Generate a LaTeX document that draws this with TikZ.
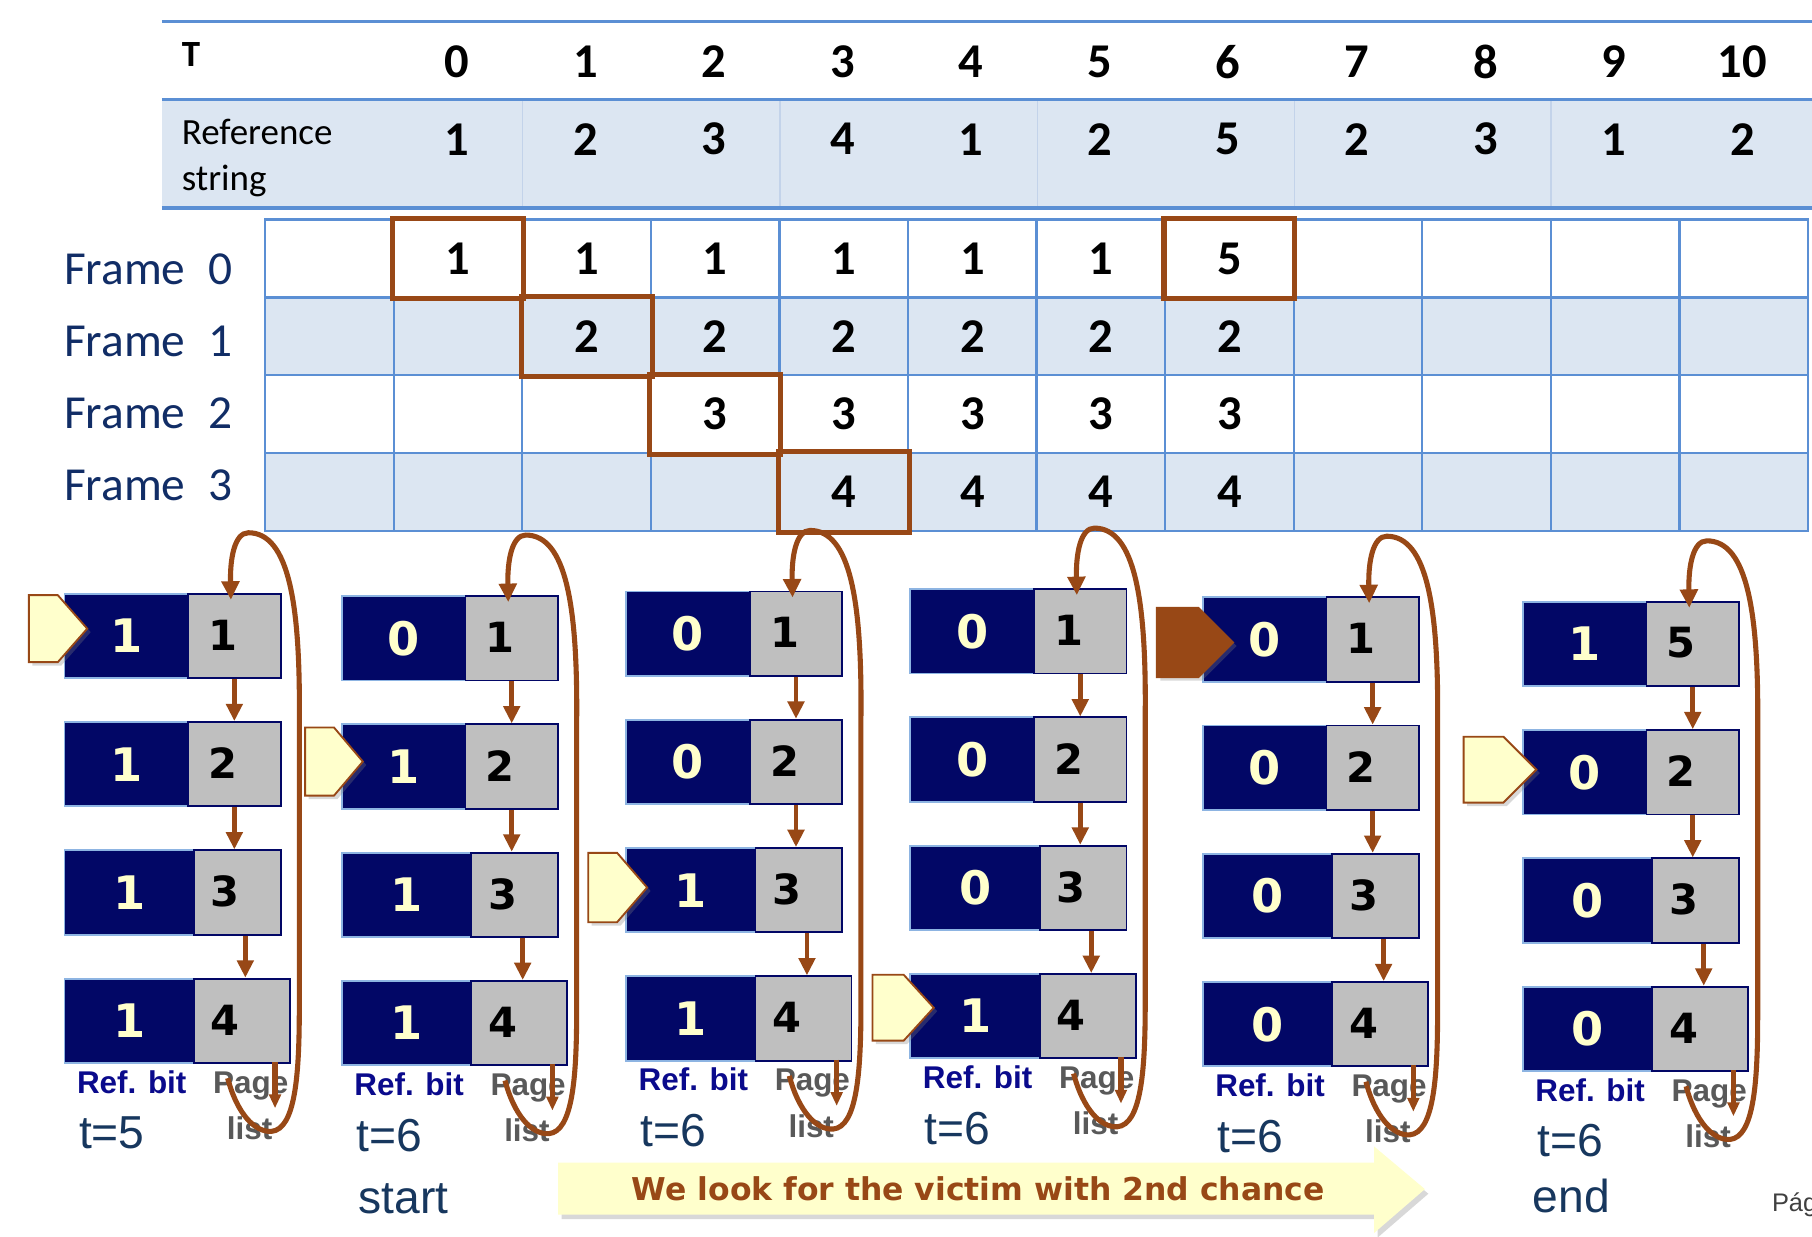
\documentclass[tikz,border=0pt]{standalone}
\usepackage{fontspec}
\setmainfont{Carlito}
\newfontfamily\dvs{DejaVu Sans}
\newfontfamily\ars{Liberation Sans}
\usetikzlibrary{arrows.meta,shadows,calc}
\definecolor{hblue}{HTML}{5B8FD4}
\definecolor{rowblue}{HTML}{DCE6F2}
\definecolor{sepblue}{HTML}{C3D3EA}
\definecolor{brn}{HTML}{984816}
\definecolor{navy}{HTML}{020766}
\definecolor{ltb}{HTML}{8DB4E2}
\definecolor{gry}{HTML}{BFBFBF}
\definecolor{cream}{HTML}{FFFFCC}
\definecolor{lblue}{HTML}{0A0A8C}
\definecolor{pgray}{HTML}{595959}
\definecolor{tnavy}{HTML}{17375E}
\definecolor{fnavy}{HTML}{112D66}
% #1 id, #2 L, #3 T, #4-#7 ref bits, #8 first page, #9 time label
\newcommand\pglist[9]{%
  \node[dk,minimum width=53.5pt] (#1d1) at (#2,#3) {#4};
  \node[gy,minimum width=40pt] (#1g1) at (#2+107,#3) {};
  \node[dk,minimum width=53.5pt] (#1d2) at (#2,#3+111) {#5};
  \node[gy,minimum width=40pt] (#1g2) at (#2+107,#3+111) {};
  \node[dk,minimum width=56pt] (#1d3) at (#2,#3+222) {#6};
  \node[gy,minimum width=37.5pt] (#1g3) at (#2+112,#3+222) {};
  \node[dk,minimum width=56pt] (#1d4) at (#2,#3+333) {#7};
  \node[gy,minimum width=41.5pt] (#1g4) at (#2+112,#3+333) {};
  \node[pd] (#1p1) at (#2+138,#3+36.5) {#8};
  \node[pd] (#1p2) at (#2+138,#3+147.5) {2};
  \node[pd] (#1p3) at (#2+140,#3+258.5) {3};
  \node[pd] (#1p4) at (#2+140,#3+369.5) {4};
  \draw[rarr] (#1g1.south) -- (#1g2.north);
  \draw[rarr] (#1g2.south) -- (#1g2.south |- #1g3.north);
  \coordinate (#1a4) at ($(#1g4.north)+(3,0)$);
  \draw[rarr] (#1a4 |- #1g3.south) -- (#1a4);
  \node[rb] (#1rb) at (#2+59,#3+433) {Ref. bit};
  \node[pl] (#1pg) at (#2+162,#3+433) {Page};
  \node[pl] (#1ls) at (#2+161,#3+473) {list};
  \node[tl] (#1tl) at (#2+13,#3+481) {#9};
  \coordinate (#1s1) at (#2+183,#3+406);
  \coordinate (#1s2) at (#2+183,#3+446);
  \draw[stub] (#1s1) -- (#1s2);
  \coordinate (#1ls0) at (#2+142,#3+420);
  \coordinate (#1le) at ($(#1g1.north)+(-3,6)$);
  \draw[lp] (#1ls0) .. controls (#2+150,#3+450) and (#2+165,#3+467) .. (#2+180,#3+466)
     .. controls (#2+200,#3+464) and (#2+204,#3+420) .. (#2+204,#3+360)
     -- (#2+204,#3+110)
     .. controls (#2+205,#3+10) and (#2+195,#3-52) .. (#2+160,#3-52)
     .. controls (#2+148,#3-52) and (#2+144,#3-30) .. (#1le);
}
% pointer: #1 x0, #2 body end, #3 tip, #4 yc, #5 half height, #6 style
\newcommand\pointer[6]{%
  \draw[#6] (#1,#4-#5) -- (#2,#4-#5) -- (#3,#4) -- (#2,#4+#5) -- (#1,#4+#5) -- cycle;
}
\begin{document}
\begin{tikzpicture}[x=0.5pt,y=-0.5pt,
  cell/.style={draw=hblue, line width=1pt, minimum width=55.625pt, minimum height=33.675pt, inner sep=0pt, anchor=north west},
  num/.style={font=\bfseries\fontsize{21}{21}\selectfont, inner sep=0pt},
  hl/.style={draw=brn, line width=2.2pt},
  dk/.style={draw=ltb, line width=0.8pt, fill=navy, minimum height=36.5pt, inner sep=0pt, anchor=north west, text=cream, font=\dvs\bfseries\fontsize{20}{20}\selectfont},
  gy/.style={draw=navy, line width=0.8pt, fill=gry, minimum height=36.5pt, inner sep=0pt, anchor=north west},
  pd/.style={font=\dvs\bfseries\fontsize{18}{18}\selectfont, inner sep=0pt},
  rarr/.style={draw=brn, line width=2pt, -{Triangle[width=7pt,length=7.5pt]}},
  lp/.style={draw=brn, line width=2.2pt, -{Triangle[width=7.5pt,length=8pt]}},
  stub/.style={draw=brn, line width=2.2pt, -{Triangle[width=5pt,length=6pt]}},
  rb/.style={font=\ars\bfseries\fontsize{13.6}{14}\selectfont, text=lblue, inner sep=0pt, anchor=base},
  pl/.style={font=\ars\bfseries\fontsize{13.6}{14}\selectfont, text=pgray, inner sep=0pt, anchor=base},
  tl/.style={font=\ars\fontsize{20}{20}\selectfont, text=tnavy, inner sep=0pt, anchor=base west},
  ptr/.style={fill=cream, draw=brn, line width=0.8pt, drop shadow={opacity=0.3,shadow xshift=1.5pt,shadow yshift=-1.5pt}},
  bptr/.style={fill=brn, draw=brn, line width=0.8pt, drop shadow={opacity=0.3,shadow xshift=1.5pt,shadow yshift=-1.5pt}},
  flab/.style={font=\fontsize{20.5}{21}\selectfont, text=fnavy, inner sep=0pt}
]
\useasboundingbox (0,0) rectangle (1568,1069.6);
\fill[white] (0,0) rectangle (1568,1069.6);

% ---------- header table ----------
\fill[rowblue] (140,86) rectangle (1568,180);
\foreach \x in {452,675,898,1120,1342} \draw[sepblue, line width=0.6pt] (\x,87) -- (\x,179);
\draw[hblue, line width=1.3pt] (140,18.5) -- (1568,18.5);
\draw[hblue, line width=1.5pt] (140,86) -- (1568,86);
\draw[hblue, line width=1.5pt] (140,180) -- (1568,180);
\node[font=\bfseries\fontsize{16}{16}\selectfont, inner sep=0pt, anchor=west] (hT) at (157,47) {T};
\node[font=\fontsize{16}{20}\selectfont, inner sep=0pt, anchor=base west] (hR1) at (157,125) {Reference};
\node[font=\fontsize{16}{20}\selectfont, inner sep=0pt, anchor=base west] (hR2) at (157,165) {string};
\foreach \t in {0,...,10} \node[num] (h\t) at ({228.5+111.25*(\t+1.5)},53.5) {\t};
\foreach \v [count=\i from 0] in {1,2,3,4,1,2,5,2,3,1,2}
  \node[num] (r\i) at ({228.5+111.25*(\i+1.5)},120.5) {\v};

% ---------- frame grid ----------
\foreach \r in {0,2} \foreach \c in {0,...,11}
  \node[cell, fill=white] (c\r-\c) at ({228.5+111.25*\c},{189+67.35*\r}) {};
\foreach \r in {1,3} \foreach \c in {0,...,11}
  \node[cell, fill=rowblue] (c\r-\c) at ({228.5+111.25*\c},{189+67.35*\r}) {};
\foreach \c/\v in {1/1,2/1,3/1,4/1,5/1,6/1,7/5} \node[num] (n0-\c) at (c0-\c) {\v};
\foreach \c in {2,...,7} \node[num] (n1-\c) at (c1-\c) {2};
\foreach \c in {3,...,7} \node[num] (n2-\c) at (c2-\c) {3};
\foreach \c in {4,...,7} \node[num] (n3-\c) at (c3-\c) {4};
\foreach \r/\c in {0/1,1/2,2/3,3/4,0/7}
  \draw[hl] (c\r-\c.north west) rectangle (c\r-\c.south east);
\node[flab, anchor=base west] (f0) at (55,246) {Frame};
\node[flab, anchor=base] (f0n) at (191,246) {0};
\node[flab, anchor=base west] (f1) at (55,308.5) {Frame};
\node[flab, anchor=base] (f1n) at (191,308.5) {1};
\node[flab, anchor=base west] (f2) at (55,371) {Frame};
\node[flab, anchor=base] (f2n) at (191,371) {2};
\node[flab, anchor=base west] (f3) at (55,433.5) {Frame};
\node[flab, anchor=base] (f3n) at (191,433.5) {3};

% ---------- banner ----------
\fill[cream, drop shadow={opacity=0.3,shadow xshift=1.5pt,shadow yshift=-2pt}]
  (483,1006) -- (1189,1006) -- (1189,992) -- (1233,1029) -- (1189,1067) -- (1189,1051) -- (483,1051) -- cycle;
\node[font=\dvs\bfseries\fontsize{13.6}{14}\selectfont, text=brn, inner sep=0pt, anchor=base] (ban) at (846.5,1039) {We look for the victim with 2nd chance};

% ---------- page lists ----------
\pglist{A}{55}{513}{1}{1}{1}{1}{1}{t=5}
\pglist{B}{295}{515}{0}{1}{1}{1}{1}{t=6}
\pglist{C}{541}{511}{0}{0}{1}{1}{1}{t=6}
\pglist{D}{787}{509}{0}{0}{0}{1}{1}{t=6}
\pglist{E}{1040}{516}{0}{0}{0}{0}{1}{t=6}
\pglist{F}{1317}{520}{1}{0}{0}{0}{5}{t=6}
\node[tl] (st) at (310,1050) {start};
\node[tl] (en) at (1326,1049) {end};

% pointers
\pointer{25}{50}{75.5}{544}{29}{ptr}
\pointer{264}{289}{314}{659}{29.5}{ptr}
\pointer{509}{534}{560}{768}{30}{ptr}
\pointer{755}{782}{808}{872}{28.5}{ptr}
\pointer{1001}{1037}{1067}{556}{30}{bptr}
\pointer{1266.5}{1301}{1329.5}{666}{28.5}{ptr}

\node[font=\ars\fontsize{11}{12}\selectfont, text=black!75, inner sep=0pt, anchor=base west] (pag) at (1533,1048) {Pág};
\end{tikzpicture}
\end{document}
